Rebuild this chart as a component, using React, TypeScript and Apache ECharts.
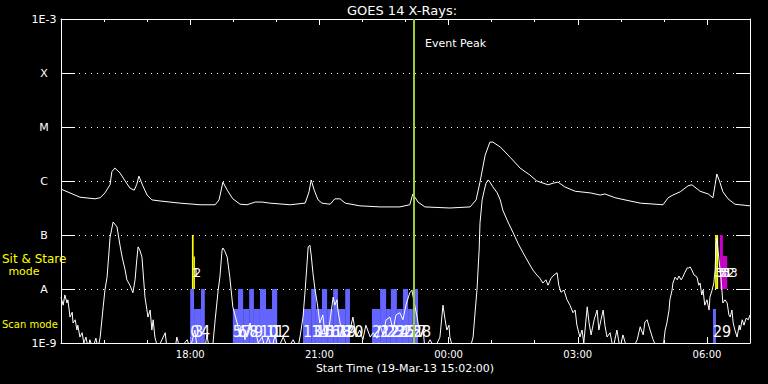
import React, { useEffect, useRef } from 'react';
import * as echarts from 'echarts';

// x: hours after 00:00 on 19-Mar-2013 (values above 24 fall on 20-Mar)
// y: log10 of the X-ray flux (W/m^2)
const xTickHours = [18, 21, 24, 27, 30];
const xTickLabels = ['18:00', '21:00', '00:00', '03:00', '06:00'];
const yTickLabels = ['1E-9', 'A', 'B', 'C', 'M', 'X', '1E-3'];

const longChannel: number[][] = [
  [15.00, -6.15], [15.44, -6.30], [15.79, -6.33], [15.91, -6.31], [16.02, -6.22], [16.14, -6.07], [16.18, -5.83],
  [16.25, -5.76], [16.37, -5.85], [16.49, -6.00], [16.60, -6.13], [16.70, -6.17], [16.76, -6.06], [16.81, -5.91],
  [16.90, -6.09], [17.00, -6.26], [17.11, -6.35], [17.30, -6.37], [17.76, -6.41], [18.23, -6.44], [18.58, -6.44],
  [18.67, -6.35], [18.76, -6.02], [18.86, -6.17], [18.99, -6.33], [19.16, -6.43], [19.32, -6.44], [19.51, -6.39],
  [19.67, -6.39], [19.85, -6.41], [20.32, -6.44], [20.67, -6.41], [20.76, -6.20], [20.81, -5.98], [20.88, -6.17],
  [20.97, -6.35], [21.06, -6.41], [21.25, -6.43], [21.36, -6.33], [21.48, -6.33], [21.60, -6.41], [21.94, -6.46],
  [22.41, -6.48], [22.87, -6.48], [23.10, -6.44], [23.17, -6.24], [23.29, -6.39], [23.45, -6.48], [24.03, -6.50],
  [24.50, -6.48], [24.64, -6.35], [24.73, -6.02], [24.85, -5.52], [24.96, -5.28], [25.03, -5.28], [25.20, -5.37],
  [25.43, -5.56], [25.66, -5.76], [25.89, -5.89], [26.05, -6.00], [26.31, -6.07], [26.43, -6.04], [26.54, -6.02],
  [26.70, -6.11], [26.94, -6.19], [27.29, -6.22], [27.52, -6.26], [27.63, -6.24], [27.87, -6.31], [27.98, -6.33],
  [28.45, -6.41], [28.98, -6.44], [29.10, -6.31], [29.21, -6.26], [29.38, -6.20], [29.56, -6.09], [29.65, -6.07],
  [29.84, -6.19], [30.03, -6.24], [30.14, -6.31], [30.19, -6.07], [30.23, -5.87], [30.30, -6.02], [30.37, -6.20],
  [30.49, -6.33], [30.65, -6.43], [31.00, -6.46],
];

const shortChannel: number[][] = [
  [15.00, -8.15], [15.05, -8.30], [15.09, -8.11], [15.14, -8.26], [15.16, -8.20], [15.21, -8.52], [15.26, -8.43],
  [15.28, -8.63], [15.33, -8.57], [15.37, -8.76], [15.39, -8.67], [15.44, -8.89], [15.49, -8.81], [15.53, -9.0],
  [15.58, -8.89], [15.63, -9.1], [15.67, -8.94], [15.74, -9.1], [15.81, -8.91], [15.86, -9.1], [15.91, -8.89],
  [15.98, -8.33], [16.02, -8.02], [16.07, -7.78], [16.14, -7.04], [16.21, -6.76], [16.30, -6.85], [16.37, -7.19],
  [16.42, -7.41], [16.49, -7.65], [16.53, -7.83], [16.60, -7.93], [16.67, -8.07], [16.72, -7.83], [16.76, -7.46],
  [16.79, -7.22], [16.83, -7.28], [16.88, -7.41], [16.95, -8.15], [17.02, -8.52], [17.07, -8.39], [17.11, -8.76],
  [17.14, -8.57], [17.18, -8.89], [17.25, -9.1], [17.42, -8.81], [17.46, -9.1], [17.65, -9.1], [17.69, -8.89],
  [17.76, -9.1], [17.93, -8.94], [18.00, -9.1], [18.11, -8.76], [18.16, -9.1], [18.34, -9.1], [18.39, -8.85],
  [18.44, -9.1], [18.53, -9.0], [18.58, -8.57], [18.65, -8.02], [18.69, -7.78], [18.74, -7.28], [18.76, -7.24],
  [18.81, -7.31], [18.86, -7.41], [18.92, -7.78], [18.99, -8.33], [19.09, -8.63], [19.16, -8.89], [19.23, -8.67],
  [19.27, -8.94], [19.34, -8.76], [19.39, -8.63], [19.44, -8.89], [19.51, -8.76], [19.58, -9.0], [19.67, -8.89],
  [19.74, -9.1], [19.81, -8.89], [19.90, -9.1], [19.97, -8.85], [20.04, -9.1], [20.16, -8.89], [20.27, -9.1],
  [20.39, -8.94], [20.50, -9.1], [20.55, -8.89], [20.62, -8.52], [20.67, -8.02], [20.74, -7.22], [20.78, -7.19],
  [20.81, -7.37], [20.85, -7.70], [20.90, -8.02], [20.95, -8.26], [21.01, -8.63], [21.08, -8.48], [21.13, -8.85],
  [21.18, -8.89], [21.25, -8.57], [21.32, -8.15], [21.36, -8.30], [21.41, -8.20], [21.43, -8.39], [21.48, -8.63],
  [21.55, -8.76], [21.64, -8.89], [21.71, -8.76], [21.78, -8.52], [21.85, -8.89], [21.94, -8.76], [22.01, -8.94],
  [22.08, -8.67], [22.18, -8.89], [22.25, -8.81], [22.34, -8.91], [22.41, -8.67], [22.48, -8.85], [22.55, -8.57],
  [22.64, -8.52], [22.71, -8.76], [22.78, -8.48], [22.87, -8.44], [22.94, -8.57], [23.01, -8.30], [23.10, -8.07],
  [23.15, -8.02], [23.19, -8.20], [23.27, -8.52], [23.34, -8.89], [23.41, -8.76], [23.45, -9.1], [23.57, -8.94],
  [23.68, -9.1], [23.80, -8.89], [23.87, -8.30], [23.92, -8.57], [23.96, -8.76], [24.01, -8.67], [24.03, -8.89],
  [24.10, -9.1], [24.50, -9.1], [24.57, -8.89], [24.62, -8.39], [24.66, -8.02], [24.71, -7.28], [24.73, -6.78],
  [24.78, -6.35], [24.83, -6.17], [24.87, -6.04], [24.92, -5.98], [24.96, -6.02], [25.03, -6.11], [25.13, -6.22],
  [25.20, -6.35], [25.26, -6.54], [25.38, -6.76], [25.50, -6.96], [25.61, -7.15], [25.73, -7.33], [25.85, -7.50],
  [25.96, -7.65], [26.05, -7.74], [26.12, -7.80], [26.19, -7.89], [26.26, -7.83], [26.31, -7.93], [26.38, -7.80],
  [26.45, -7.74], [26.52, -7.70], [26.56, -7.93], [26.61, -8.06], [26.68, -8.02], [26.75, -8.20], [26.82, -8.30],
  [26.89, -8.44], [26.94, -8.39], [26.98, -8.67], [27.05, -8.89], [27.10, -8.76], [27.14, -9.0], [27.22, -8.33],
  [27.26, -8.61], [27.31, -8.85], [27.38, -8.57], [27.45, -8.39], [27.49, -8.76], [27.54, -8.57], [27.59, -8.39],
  [27.63, -8.67], [27.68, -8.89], [27.75, -8.81], [27.82, -9.1], [27.91, -8.76], [27.98, -9.1], [28.05, -8.85],
  [28.14, -9.1], [28.28, -9.1], [28.38, -8.94], [28.45, -8.70], [28.52, -8.85], [28.56, -8.61], [28.61, -8.57],
  [28.68, -8.76], [28.75, -8.94], [28.84, -9.1], [28.98, -9.1], [29.03, -8.76], [29.07, -8.63], [29.12, -8.39],
  [29.14, -8.20], [29.19, -8.02], [29.21, -7.89], [29.26, -7.78], [29.31, -7.83], [29.35, -7.76], [29.40, -7.83],
  [29.44, -7.78], [29.49, -7.69], [29.54, -7.61], [29.58, -7.61], [29.61, -7.59], [29.65, -7.65], [29.70, -7.74],
  [29.77, -7.78], [29.81, -7.93], [29.84, -7.89], [29.88, -8.11], [29.91, -8.02], [29.95, -8.30], [30.00, -8.20],
  [30.05, -8.39], [30.07, -8.15], [30.12, -8.02], [30.16, -7.89], [30.19, -7.65], [30.21, -7.19], [30.23, -7.05],
  [30.28, -7.46], [30.33, -7.83], [30.37, -8.26], [30.42, -8.20], [30.47, -8.26], [30.51, -8.48], [30.54, -8.52],
  [30.58, -8.39], [30.61, -8.63], [30.65, -8.76], [30.70, -8.89], [30.75, -8.67], [30.77, -8.76], [30.82, -8.57],
  [30.86, -8.67], [30.91, -8.54], [30.96, -8.57], [31.00, -8.48],
];

// scan mode observations: [start hour, end hour, top level, number]
const scanObs: (number | string)[][] = [
  [18.00, 18.09, -8, '0'], [18.09, 18.25, -8.37, '3'], [18.25, 18.34, -8, '4'],
  [18.99, 19.11, -8.37, '5'], [19.11, 19.23, -8, '6'], [19.23, 19.37, -8.37, '7'], [19.37, 19.48, -8, '8'],
  [19.48, 19.62, -8.37, '9'], [19.62, 19.76, -8, '10'], [19.76, 19.90, -8.37, '11'], [19.90, 20.02, -8, '12'],
  [20.62, 20.81, -8.37, '13'], [20.81, 20.92, -8, '14'], [20.92, 21.06, -8.37, '15'], [21.06, 21.18, -8, '16'],
  [21.18, 21.32, -8.37, '17'], [21.32, 21.43, -8, '18'], [21.43, 21.60, -8.37, '19'], [21.60, 21.71, -8, '20'],
  [22.22, 22.41, -8.37, '21'], [22.41, 22.55, -8, '22'], [22.55, 22.66, -8.37, '23'], [22.66, 22.80, -8, '24'],
  [22.80, 22.94, -8.37, '25'], [22.94, 23.06, -8, '26'], [23.06, 23.17, -8.37, '27'], [23.17, 23.29, -8, '28'],
  [30.14, 30.21, -8.37, '29'],
];

// sit & stare observations: [start hour, end hour, top level, number, filter]
const stareObs: (number | string)[][] = [
  [18.04, 18.08, -7, '1', 'a'], [18.08, 18.11, -7.4, '2', 'a'],
  [30.19, 30.23, -7, '30', 'a'], [30.23, 30.26, -7, '31', 'a'],
  [30.30, 30.37, -7, '32', 'b'], [30.37, 30.47, -7.39, '33', 'b'],
];

const scanBottom = -9;
const stareBottom = -8;
const scanLabelLevel = -8.78;
const stareLabelLevel = -7.69;
const eventPeakHour = 23.18;

const FONT = '"DejaVu Sans", sans-serif';
const NUM_FONT = '"Liberation Sans Narrow", "DejaVu Sans Condensed", sans-serif';
const filterColor: Record<string, string> = { a: '#ffff00', b: '#cc00cc' };

function barRenderer(obs: (number | string)[][], bottom: number, color: (o: (number | string)[]) => string) {
  return (params: any, api: any) => {
    const o = obs[params.dataIndex];
    const p0 = api.coord([o[0] as number, o[2] as number]);
    const p1 = api.coord([o[1] as number, bottom]);
    return {
      type: 'rect',
      shape: { x: p0[0], y: p0[1], width: p1[0] - p0[0], height: p1[1] - p0[1] },
      style: { fill: color(o) },
    };
  };
}

function labelRenderer(obs: (number | string)[][], level: number, size: number) {
  return (params: any, api: any) => {
    const o = obs[params.dataIndex];
    const p = api.coord([o[0] as number, level]);
    return {
      type: 'text',
      x: p[0],
      y: p[1],
      style: {
        text: String(o[3]),
        fill: '#ffffff',
        fontSize: size,
        fontFamily: NUM_FONT,
        align: 'left',
        verticalAlign: 'middle',
      },
    };
  };
}

const xLabel = (v: number) => {
  const i = xTickHours.indexOf(v);
  return i >= 0 ? xTickLabels[i] : '';
};

function makeXAxis(position: string, interval: number, tickLen: number, showLine: boolean, showLabel: boolean) {
  return {
    type: 'value',
    min: 15,
    max: 31,
    interval,
    position,
    axisLine: { show: showLine, lineStyle: { color: '#ffffff', width: 1 } },
    axisTick: { show: true, inside: true, length: tickLen, lineStyle: { color: '#ffffff', width: 1 } },
    axisLabel: {
      show: showLabel,
      color: '#ffffff',
      fontSize: 10,
      fontFamily: FONT,
      margin: 6,
      formatter: xLabel,
      showMinLabel: false,
      showMaxLabel: false,
    },
    splitLine: { show: false },
  };
}

function makeYAxis(position: string, showLabel: boolean, showSplit: boolean) {
  return {
    type: 'value',
    min: -9,
    max: -3,
    interval: 1,
    position,
    axisLine: { show: true, lineStyle: { color: '#ffffff', width: 1 } },
    axisTick: { show: true, inside: true, length: 14, lineStyle: { color: '#ffffff', width: 1 } },
    axisLabel: {
      show: showLabel,
      color: '#ffffff',
      fontSize: 11,
      fontFamily: FONT,
      align: 'center',
      margin: 17,
      formatter: (v: number) => yTickLabels[Math.round(v) + 9] ?? '',
    },
    splitLine: { show: showSplit, lineStyle: { color: '#ffffff', width: 1, type: [1, 5] } },
  };
}

const textEl = (text: string, x: number, y: number, size: number, color: string, align: string) => ({
  type: 'text',
  x,
  y,
  silent: true,
  style: { text, fill: color, fontSize: size, fontFamily: FONT, align, verticalAlign: 'middle' },
});

export default function App() {
  const ref = useRef<HTMLDivElement>(null);
  useEffect(() => {
    if (!ref.current) return;
    const chart = echarts.init(ref.current, null, { renderer: 'svg' });
    const option: any = {
      animation: false,
      backgroundColor: '#000000',
      grid: { left: 61, right: 18, top: 19, bottom: 41, containLabel: false, outerBoundsMode: 'none' },
      xAxis: [
        makeXAxis('bottom', 3, 6, true, true),
        makeXAxis('bottom', 1, 3, false, false),
        makeXAxis('top', 3, 6, true, false),
        makeXAxis('top', 1, 3, false, false),
      ],
      yAxis: [makeYAxis('left', true, true), makeYAxis('right', false, false)],
      series: [
        {
          type: 'custom',
          name: 'scan',
          xAxisIndex: 0,
          yAxisIndex: 0,
          z: 1,
          data: scanObs.map((o) => [o[0], o[1], o[2]]),
          renderItem: barRenderer(scanObs, scanBottom, () => '#6464ff'),
        },
        {
          type: 'custom',
          name: 'stare',
          xAxisIndex: 0,
          yAxisIndex: 0,
          z: 1,
          data: stareObs.map((o) => [o[0], o[1], o[2]]),
          renderItem: barRenderer(stareObs, stareBottom, (o) => filterColor[o[4] as string]),
        },
        {
          type: 'line',
          name: 'long',
          z: 2,
          data: longChannel,
          showSymbol: false,
          symbol: 'none',
          clip: true,
          lineStyle: { color: '#ffffff', width: 1 },
        },
        {
          type: 'line',
          name: 'short',
          z: 2,
          data: shortChannel,
          showSymbol: false,
          symbol: 'none',
          clip: true,
          lineStyle: { color: '#ffffff', width: 1 },
        },
        {
          type: 'custom',
          name: 'scanLabels',
          z: 3,
          data: scanObs.map((o) => [o[0], scanLabelLevel]),
          renderItem: labelRenderer(scanObs, scanLabelLevel, 16),
        },
        {
          type: 'custom',
          name: 'stareLabels',
          z: 3,
          data: stareObs.map((o) => [o[0], stareLabelLevel]),
          renderItem: labelRenderer(stareObs, stareLabelLevel, 13),
        },
        {
          type: 'line',
          name: 'peak',
          z: 4,
          data: [],
          markLine: {
            silent: true,
            symbol: ['none', 'none'],
            label: { show: false },
            lineStyle: { color: '#9acd32', width: 2, type: 'solid' },
            data: [{ xAxis: eventPeakHour }],
          },
        },
      ],
      graphic: [
        textEl('GOES 14 X-Rays:', 402, 10, 13, '#ffffff', 'center'),
        textEl('Event Peak', 425, 43, 11, '#ffffff', 'left'),
        textEl('Start Time (19-Mar-13 15:02:00)', 405, 368, 11, '#ffffff', 'center'),
        textEl('Sit & Stare', 2, 259, 12, '#ffff00', 'left'),
        textEl('mode', 24, 271, 11, '#ffff00', 'center'),
        textEl('Scan mode', 2, 324, 10, '#ffff00', 'left'),
      ],
    };
    chart.setOption(option);
    return () => chart.dispose();
  }, []);
  return (
    <div
      ref={ref}
      style={{ position: 'absolute', left: 0, top: 0, width: 768, height: 384, background: '#000000' }}
    />
  );
}
